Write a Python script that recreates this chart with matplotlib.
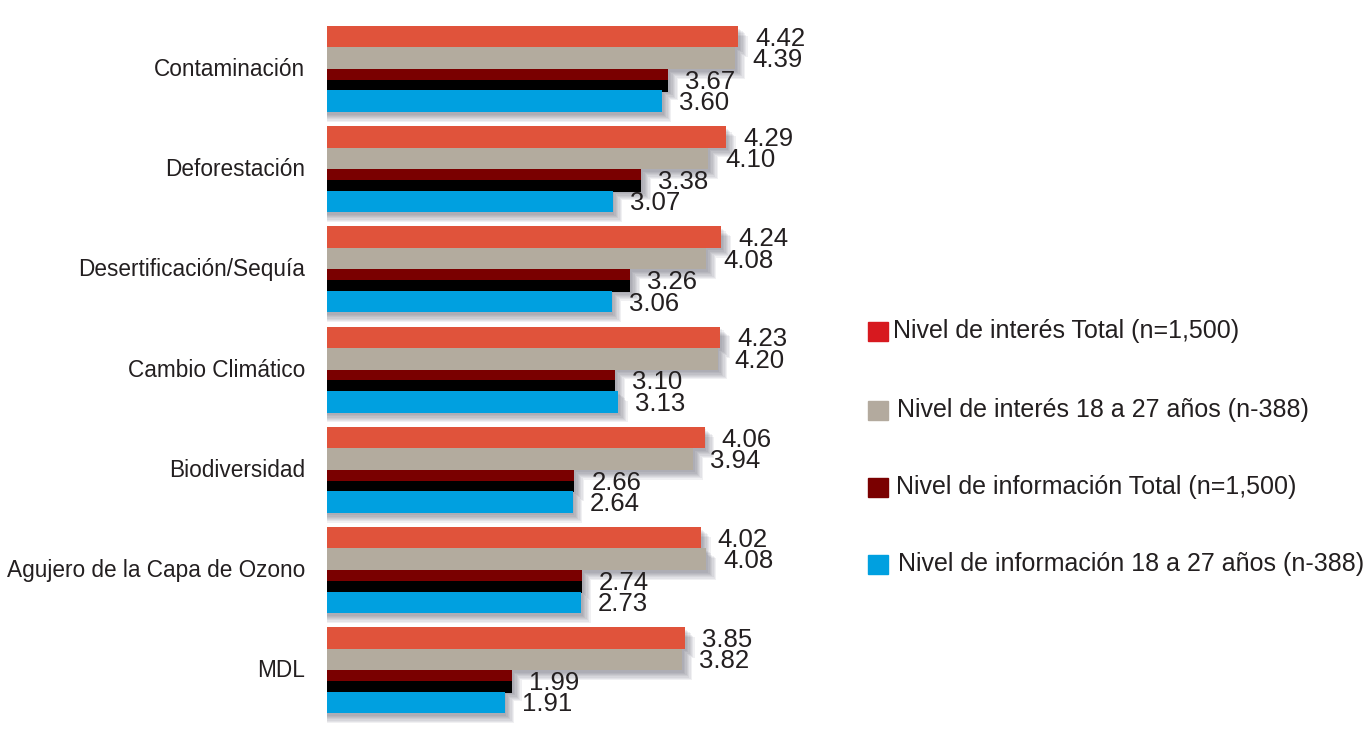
import matplotlib
matplotlib.use("Agg")
import matplotlib.pyplot as plt
import matplotlib.transforms as mtransforms
import numpy as np

plt.rcParams['font.family'] = ['Liberation Sans', 'DejaVu Sans']

categories = ["Contaminación", "Deforestación", "Desertificación/Sequía",
              "Cambio Climático", "Biodiversidad", "Agujero de la Capa de Ozono", "MDL"]
series_names = ["Nivel de interés Total (n=1,500)",
                "Nivel de interés 18 a 27 años (n-388)",
                "Nivel de información Total (n=1,500)",
                "Nivel de información 18 a 27 años (n-388)"]
interes_total = [4.42, 4.29, 4.24, 4.23, 4.06, 4.02, 3.85]
interes_joven = [4.39, 4.10, 4.08, 4.20, 3.94, 4.08, 3.82]
info_total = [3.67, 3.38, 3.26, 3.10, 2.66, 2.74, 1.99]
info_joven = [3.60, 3.07, 3.06, 3.13, 2.64, 2.73, 1.91]

bar_colors = ["#E0533B", "#B3AB9E", "#7A0000", "#00A0E0"]
legend_colors = ["#D7191F", "#B3AA9E", "#7A0000", "#00A0E0"]
text_color = "#231F20"

W, H = 1367, 746
fig = plt.figure(figsize=(W / 100, H / 100), dpi=100)
ax_left, ax_right = 327, 792
ax_top, ax_bot = 16, 726
ax = fig.add_axes([ax_left / W, 1 - ax_bot / H, (ax_right - ax_left) / W, (ax_bot - ax_top) / H])

px_per_unit_y = 100.2
xmax = (ax_right - ax_left) / 93.0
ax.set_xlim(0, xmax)
top = -(69 - ax_top) / px_per_unit_y
ax.set_ylim(top + (ax_bot - ax_top) / px_per_unit_y, top)

h = 21.5 / px_per_unit_y
y = np.arange(len(categories))
all_series = [interes_total, interes_joven, info_total, info_joven]
offsets = [-1.5, -0.5, 0.5, 1.5]

# soft shadows
for k in range(7):
    dx = 0.02 + 0.014 * k
    dy = 0.025 + 0.012 * k
    for vals, off in zip(all_series, offsets):
        ax.barh(y + off * h + dy, np.array(vals) + dx, height=h, left=0.0,
                color="#4A4A5A", alpha=0.08, zorder=1, linewidth=0)

for i, (vals, off, c) in enumerate(zip(all_series, offsets, bar_colors)):
    if i == 2:
        # upper half dark red, lower half black (as in the reference)
        ax.barh(y + off * h - h / 4, vals, height=h / 2, color=c, zorder=3, linewidth=0)
        ax.barh(y + off * h + h / 4 + 0.005, vals, height=h / 2 + 0.01, color="#000000", zorder=3, linewidth=0)
    else:
        ax.barh(y + off * h, vals, height=h, color=c, zorder=3, linewidth=0)
    for yy, v in zip(y, vals):
        ax.text(v + 17 / 93.0, yy + off * h + 0.02, f"{v:.2f}", va="center", ha="left",
                fontsize=18.5, color=text_color, zorder=4)

ax.set_yticks(y)
ax.set_yticklabels(categories, fontsize=16.3, color=text_color)
ax.tick_params(axis='y', length=0, pad=16)
shift = mtransforms.ScaledTranslation(0, 2 / 100, fig.dpi_scale_trans)
for lab in ax.get_yticklabels():
    lab.set_transform(lab.get_transform() + shift)
ax.set_xticks([])
for s in ax.spines.values():
    s.set_visible(False)

# legend
leg_y = [331, 410, 487, 564]
leg_x = [893, 897, 896, 898]
for name, c, ly, lx in zip(series_names, legend_colors, leg_y, leg_x):
    fig.patches.append(plt.Rectangle((868 / W, 1 - (ly + 10) / H), 20 / W, 19 / H,
                                     transform=fig.transFigure, color=c, figure=fig))
    fig.text(lx / W, 1 - ly / H, name, fontsize=18, color=text_color, va="center", ha="left")

fig.savefig("out.png", dpi=100)
